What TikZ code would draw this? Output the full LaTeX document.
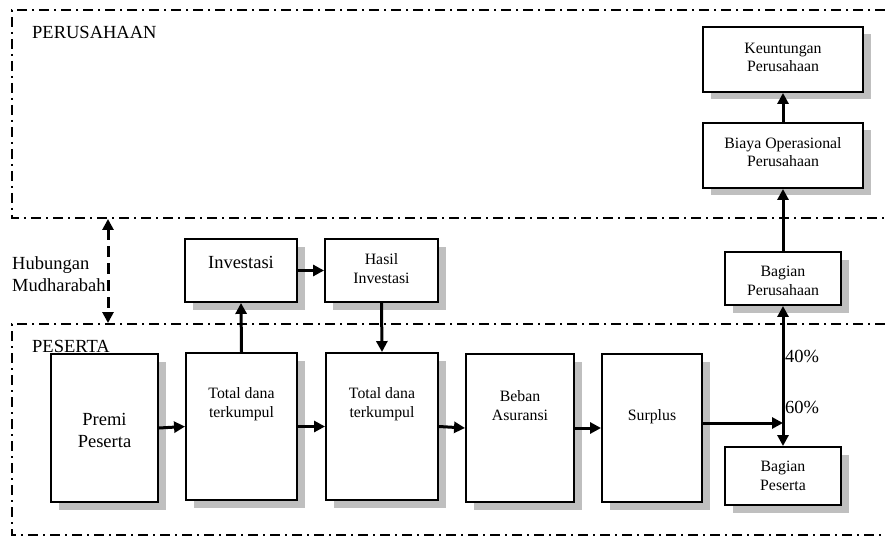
\documentclass[tikz,border=0pt]{standalone}
\usepackage{fontspec}
\setmainfont{Liberation Serif}
\usetikzlibrary{arrows.meta,shadows}
\begin{document}
\begin{tikzpicture}[x=1pt,y=-1pt,
  box/.style={draw, line width=1.9pt, fill=white, inner sep=0pt,
    general shadow={fill=gray!50, shadow xshift=8pt, shadow yshift=-7.5pt}},
  big/.style={font=\fontsize{18.5}{22}\selectfont},
  small/.style={font=\fontsize{15.8}{18.5}\selectfont},
  txt/.style={align=center, anchor=base, inner sep=0pt},
  lbl/.style={anchor=base west, inner sep=0pt, align=left},
  region/.style={line width=1.9pt, dash pattern=on 10pt off 5pt on 2pt off 5pt},
  flow/.style={line width=3pt, -{Triangle[length=11pt,width=11pt]}},
  flow2/.style={line width=3pt, {Triangle[length=11pt,width=11pt]}-{Triangle[length=11pt,width=11pt]}},
  mud/.style={line width=3pt, dash pattern=on 11pt off 6pt,
    {Triangle[length=11pt,width=11pt]}-{Triangle[length=11pt,width=11pt]}}
]
\useasboundingbox (0,0) rectangle (885,537);
\fill[white] (0,0) rectangle (885,537);

% regions
\draw[region] (885,10) -- (12,10) -- (12,218) -- (885,218);
\draw[region] (885,324) -- (12,324) -- (12,535) -- (885,535);
\node[big, lbl] (lper) at (32,39) {PERUSAHAAN};
\node[big, lbl] (lpes) at (32,352) {PESERTA};
\node[big, lbl] (lhub) at (12,291) {Hubungan\\Mudharabah};

% boxes
\node[box, minimum width=160pt, minimum height=65pt] (keu) at (783,59.5) {};
\node[box, minimum width=160pt, minimum height=65pt] (bia) at (783,155.5) {};
\node[box, minimum width=116pt, minimum height=53pt] (bper) at (783,278.5) {};
\node[box, minimum width=116pt, minimum height=58pt] (bpes) at (783,476) {};
\node[box, minimum width=112pt, minimum height=63pt] (inv) at (241,270.5) {};
\node[box, minimum width=113pt, minimum height=63pt] (has) at (381.5,270.5) {};
\node[box, minimum width=107pt, minimum height=148pt] (prem) at (104.5,428) {};
\node[box, minimum width=111pt, minimum height=147pt] (tot1) at (241.5,426.5) {};
\node[box, minimum width=112pt, minimum height=147pt] (tot2) at (382,426.5) {};
\node[box, minimum width=108pt, minimum height=148pt] (beb) at (520,428) {};
\node[box, minimum width=100pt, minimum height=148pt] (sur) at (652,428) {};

% box texts
\node[small, txt] (tkeu) at (783,72) {Keuntungan\\Perusahaan};
\node[small, txt] (tbia) at (783,167) {Biaya Operasional\\Perusahaan};
\node[small, txt] (tbper) at (783,295) {Bagian\\Perusahaan};
\node[small, txt] (tbpes) at (783,490) {Bagian\\Peserta};
\node[big, txt] (tinv) at (241,268) {Investasi};
\node[small, txt] (thas) at (381.5,283) {Hasil\\Investasi};
\node[big, txt] (tprem) at (104.5,447) {Premi\\Peserta};
\node[small, txt] (ttot1) at (241.5,417) {Total dana\\terkumpul};
\node[small, txt] (ttot2) at (382,417) {Total dana\\terkumpul};
\node[small, txt] (tbeb) at (520,420) {Beban\\Asuransi};
\node[small, txt] (tsur) at (652,420) {Surplus};

\node[big, lbl] (p40) at (785,362) {40\%};
\node[big, lbl] (p60) at (785,413) {60\%};

% connectors
\coordinate (j) at (783,423);
\coordinate (h1) at (108,219);
\coordinate (h2) at (108,323);
\draw[mud] (h1) -- (h2);
\draw[flow] (prem.east) -- (tot1.west);
\draw[flow] (tot1.east) -- (tot2.west);
\draw[flow] (tot2.east) -- (beb.west);
\draw[flow] (beb.east) -- (sur.west);
\draw[flow] (tot1.north) -- (inv.south);
\draw[flow] (inv.east) -- (has.west);
\draw[flow] (has.south) -- (tot2.north);
\draw[flow] (sur.east |- j) -- (j);
\draw[flow2] (bper.south) -- (bpes.north);
\draw[flow] (bper.north) -- (bia.south);
\draw[flow] (bia.north) -- (keu.south);
\end{tikzpicture}
\end{document}
